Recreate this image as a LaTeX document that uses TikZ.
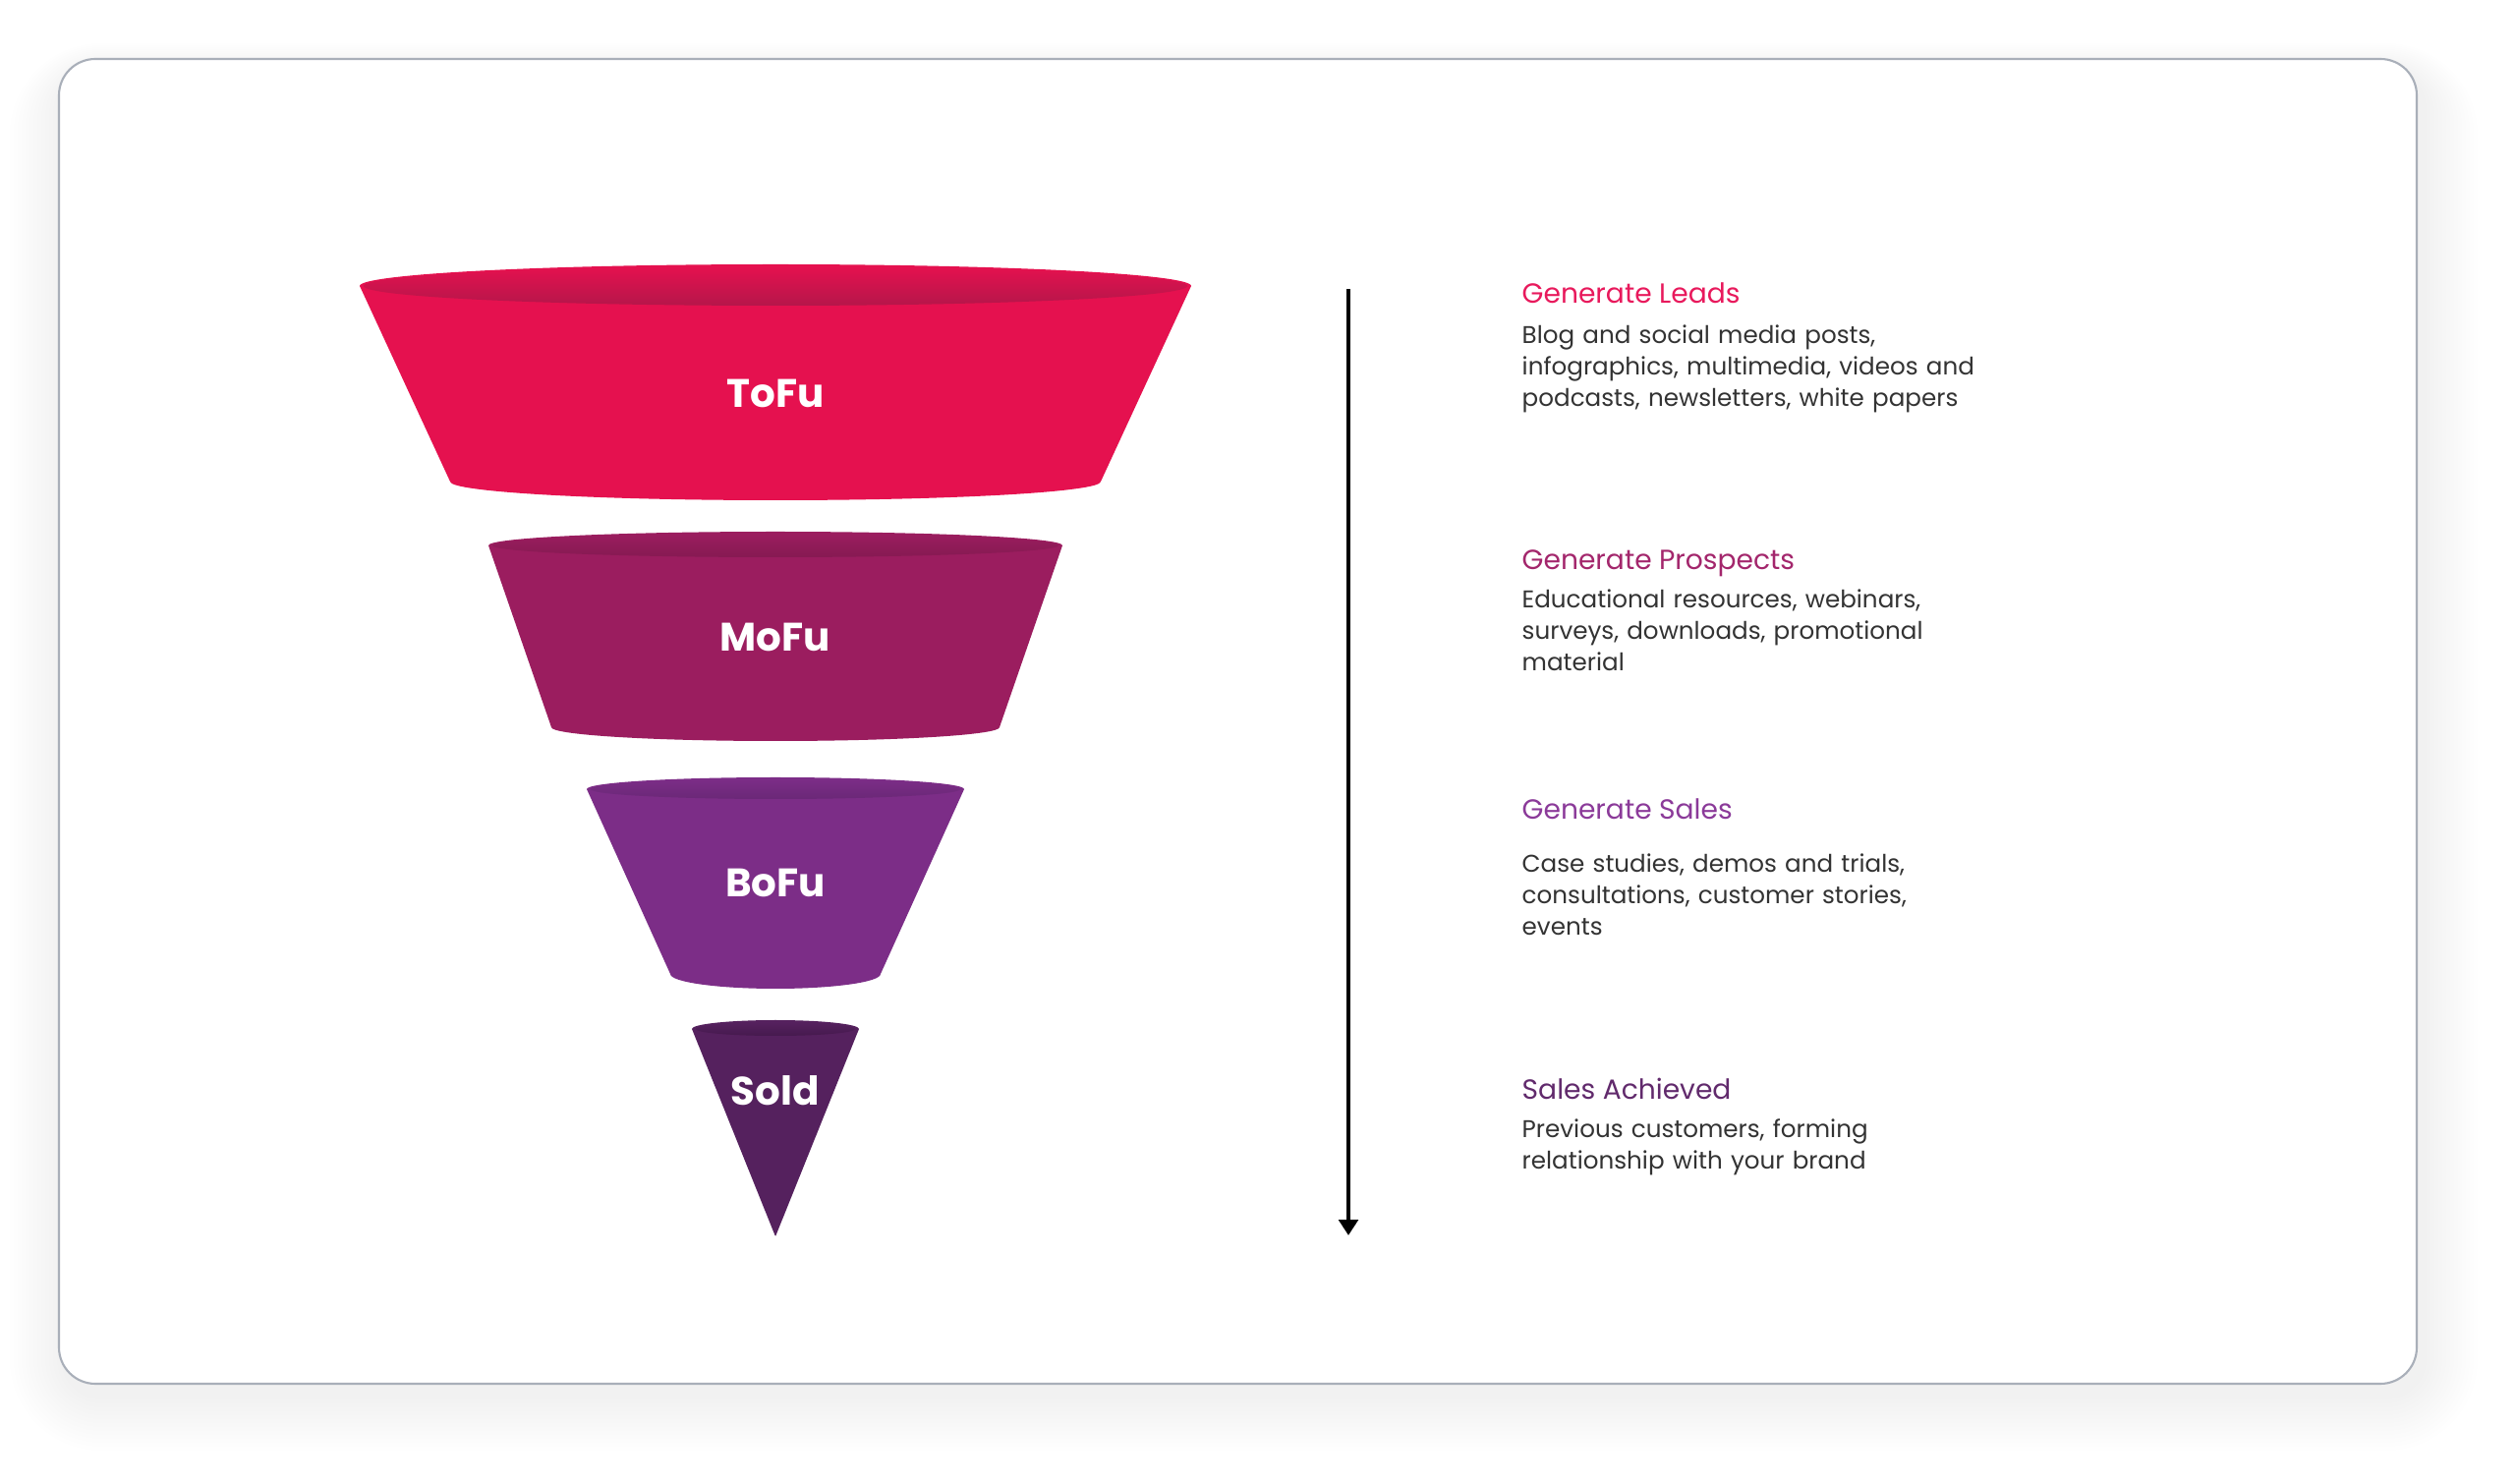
\documentclass[tikz,border=0pt]{standalone}
\usepackage{fontspec}
\setmainfont{Poppins}
\usetikzlibrary{arrows.meta}

\definecolor{tofu}{HTML}{E5114F}
\definecolor{tofuRim}{HTML}{B5164A}
\definecolor{mofu}{HTML}{9B1D5F}
\definecolor{mofuRim}{HTML}{861A52}
\definecolor{bofu}{HTML}{7C2D87}
\definecolor{bofuRim}{HTML}{6A2877}
\definecolor{sold}{HTML}{55215E}
\definecolor{soldRim}{HTML}{461A4E}
\definecolor{leadsC}{HTML}{E8195C}
\definecolor{prospC}{HTML}{A3266C}
\definecolor{salesC}{HTML}{8B3A99}
\definecolor{achvC}{HTML}{612A6C}
\definecolor{bodyC}{HTML}{333333}
\definecolor{cardLine}{HTML}{A9AFB9}
\definecolor{shadowC}{HTML}{6B7280}

\begin{document}
\begin{tikzpicture}[
  x=0.01cm, y=0.01cm, % one unit = one pixel of the picture
  card/.style={draw=cardLine, line width=0.6pt, fill=white, rounded corners=0.37cm},
  stage/.style={text=white, font=\fontsize{11.5}{14}\selectfont\bfseries},
  head/.style={anchor=base west, inner sep=0pt, font=\fontsize{8}{10}\selectfont},
  body/.style={anchor=base west, inner sep=0pt, text=bodyC, text width=7cm, align=left,
    font=\fontsize{7}{8.96}\selectfont},
  flow/.style={line width=1.1pt, -{Triangle[width=5.5pt,length=4.5pt]}},
  ]

\useasboundingbox (0,0) rectangle (2560,-1510);
\fill[white] (0,0) rectangle (2560,-1510);

% soft shadow under the card
\foreach \i in {1,...,14}
  \fill[shadowC, opacity=0.0035, rounded corners=0.37cm+\i*0.04cm]
    (60-\i*4+6,-60+\i*2-12) rectangle (2459+\i*4+6,-1408-\i*4-12);
\path[card] (60,-60) rectangle (2459,-1408);

% funnel parts: name/colour/rim/top y/top rx/top ry/bottom y/bottom rx/bottom ry/label/label y
\foreach \n/\col/\rim/\ty/\trx/\try/\by/\brx/\bry/\lab/\ly in {
    tofu/tofu/tofuRim/291/423/22/490/331/19/ToFu/400,
    mofu/mofu/mofuRim/555/292/14/740/228/14/MoFu/648,
    bofu/bofu/bofuRim/803/192/12/991/107/15/BoFu/898,
    sold/sold/soldRim/1047/85/9/1257/0.5/0.5/Sold/1110}
{
  \fill[\col] (789-\trx,-\ty) -- (789-\brx,-\by)
    arc[start angle=180, end angle=360, x radius=\brx, y radius=\bry]
    -- (789+\trx,-\ty)
    arc[start angle=0, end angle=180, x radius=\trx, y radius=\try] -- cycle;
  \shade[top color=\col, bottom color=\rim] (789,-\ty) ellipse [x radius=\trx-4, y radius=\try-2];
  \node[stage] (\n) at (789,-\ly) {\lab};
}

% arrow
\coordinate (flowTop) at (1372,-294);
\coordinate (flowEnd) at (1372,-1257);
\draw[flow] (flowTop) -- (flowEnd);

% texts
\node[head, text=leadsC] (leads) at (1548,-309) {Generate Leads};
\node[body] (leadsTxt) at (1548,-350) {Blog and social media posts,\\infographics, multimedia, videos and\\podcasts, newsletters, white papers};

\node[head, text=prospC] (prosp) at (1548,-580) {Generate Prospects};
\node[body] (prospTxt) at (1548,-619) {Educational resources, webinars,\\surveys, downloads, promotional\\material};

\node[head, text=salesC] (sales) at (1548,-834) {Generate Sales};
\node[body] (salesTxt) at (1548,-888) {Case studies, demos and trials,\\consultations, customer stories,\\events};

\node[head, text=achvC] (achv) at (1548,-1119) {Sales Achieved};
\node[body] (achvTxt) at (1548,-1158) {Previous customers, forming\\relationship with your brand};

\end{tikzpicture}
\end{document}
